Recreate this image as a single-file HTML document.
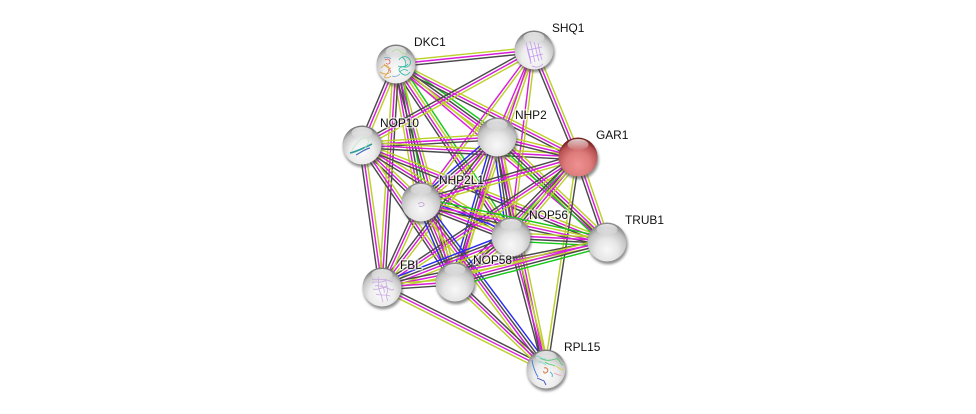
<!DOCTYPE html>
<html>
<head>
<meta charset="utf-8">
<style>
html,body{margin:0;padding:0;background:#fff;width:976px;height:414px;overflow:hidden}
svg{display:block}
text{font-family:"Liberation Sans",sans-serif;font-size:11.9px;fill:#111;paint-order:stroke;stroke:rgba(255,255,255,.6);stroke-width:3px;stroke-linejoin:round}
</style>
</head>
<body>
<svg id="s" width="976" height="414" viewBox="0 0 976 414" xmlns="http://www.w3.org/2000/svg">
<defs>
<radialGradient id="gw" cx="50%" cy="70%" r="64%">
<stop offset="0" stop-color="#f8f8f8"/><stop offset=".45" stop-color="#e6e6e6"/><stop offset=".8" stop-color="#c2c2c2"/><stop offset="1" stop-color="#8c8c8c"/>
</radialGradient>
<radialGradient id="gl" cx="50%" cy="68%" r="64%">
<stop offset="0" stop-color="#fbfbfb"/><stop offset=".5" stop-color="#ececec"/><stop offset=".82" stop-color="#c4c4c4"/><stop offset="1" stop-color="#7c7c7c"/>
</radialGradient>
<radialGradient id="gr" cx="50%" cy="70%" r="64%">
<stop offset="0" stop-color="#f09090"/><stop offset=".5" stop-color="#de7c7c"/><stop offset=".85" stop-color="#b85252"/><stop offset="1" stop-color="#7a2222"/>
</radialGradient>
<linearGradient id="hl" x1="0" y1="0" x2="0" y2="1">
<stop offset="0" stop-color="#fff" stop-opacity=".8"/><stop offset="1" stop-color="#fff" stop-opacity=".05"/>
</linearGradient>
<filter id="bl" x="-30%" y="-30%" width="160%" height="160%"><feGaussianBlur stdDeviation="1.3"/></filter>
</defs>
<g id="edges" fill="none" stroke-width="1.45"></g>
<g id="nodes"></g>

<g fill="none" stroke-width=".8" id="art">
<g stroke="#2fb9a0"><path d="M399 60c3-5 9-4 11 0s-2 8-6 7-7 3-3 6 6 3 9-1"/><path d="M402 57c3 2 5 6 3 10M398 66c3 1 8 1 10-2M400 72c2-3 6-3 8-1"/></g>
<path stroke="#a8dc90" d="M392 52c3-3 7-3 9 0s5 1 6 3"/>
<g stroke="#e0a040"><path d="M381 68c3-4 7-3 8 0s-2 6-4 8 3 3 6 0"/><path d="M380 72c3 2 6 3 9 1M384 64c2 3 5 5 7 4"/></g>
<path stroke="#d66" d="M385 60c3-2 5 0 5 2s-3 3-4 1M388 70c2-1 3 1 2 3"/>
<path stroke="#7ac" d="M392 76c3 1 6 0 8-2M384 58c3-1 5-1 7 1"/>
<g stroke="#c49cee"><path d="M526 43c2 6 4 13 5 20M530 41c2 7 3 14 5 21M534 42c2 6 3 13 5 19M538 43c1 6 2 11 4 17M527 47c1 6 3 12 4 17M532 66c4 2 8 1 11-2M528 50l14-3M530 57l13-3"/></g>
<path stroke="#2a9d9a" stroke-width="1.6" d="M350 153c5-1 14-5 22-9"/>
<path stroke="#4a70c0" stroke-width="1.2" d="M356 155c4-2 9-6 14-7"/>
<path stroke="#bfe8c8" d="M352 150c4-6 9-14 15-12 4 2 0 8-4 12"/>
<path stroke="#c0a0d0" d="M418 204c2-2 5-2 6 0s-3 3-5 2"/>
<path stroke="#ddd" d="M421 200v-8"/>
<g stroke="#c8a8e0"><path d="M372 283c4-3 8 1 12-2s6 2 9 0M373 289c5 2 9-3 14-1s4 3 7 1M378 277c2 5-1 10 2 15s1 6 3 10M386 279c-1 6 3 8 1 14s2 6 0 8M376 294c4 2 10 0 14 2M372 279c5 2 9-1 15 1M375 286c4-2 8 3 12 0M381 284c2 3 4 6 3 9"/></g>
<g stroke-width=".9">
<path stroke="#3f7fd8" d="M532 360c1 7 3 12 6 17"/>
<path stroke="#3a50b8" d="M537 378l7 3 2 4"/>
<path stroke="#58c878" d="M540 358c5 3 10 3 15 1s4 5 8 6M545 362c3 3 7 2 10 4"/>
<path stroke="#7fd8d0" d="M536 356c4 0 6 4 10 3M538 362c3-1 5 1 8 3"/>
<path stroke="#d9d050" d="M556 366c3 2 5 4 8 4"/>
<path stroke="#c87038" d="M544 368c3-1 5 2 3 4s-4 1-3-1"/>
<path stroke="#38b0c8" d="M550 372c2 1 3 3 2 5"/>
<path stroke="#e8a0b0" d="M554 373c3 1 5 3 7 2"/>
</g>
</g>

<text x="414" y="46">DKC1</text>
<text x="552" y="32">SHQ1</text>
<text x="380" y="127">NOP10</text>
<text x="515" y="119">NHP2</text>
<text x="596" y="139">GAR1</text>
<text x="439" y="184">NHP2L1</text>
<text x="529" y="219">NOP56</text>
<text x="625" y="224">TRUB1</text>
<text x="400" y="269">FBL</text>
<text x="473" y="264">NOP58</text>
<text x="564" y="351">RPL15</text>
</svg>
<script>
(function(){
var NS="http://www.w3.org/2000/svg";
var P={D:[396,64,'gl'],S:[534,50,'gl'],O:[362,145,'gl'],H:[497,137,'gw'],G:[578,157,'gr'],L:[421,202,'gw'],N:[511,237,'gw'],T:[607,242,'gw'],F:[382,287,'gl'],E:[455,282,'gw'],R:[546,369,'gl']};
var C={y:'#bcd02a',m:'#d81ed8',k:'#4a4a4a',g:'#18c818',b:'#2a2af0'};
var E="DS ymk,DO ymk,DH gkmy,DG ymk,DL gkmy,DN gymk,DT ym,DF kmy,DE ymk,SO ymk,SH ym,SG ymk,SL ym,SN ym,SE ym,OH ymk,OG ymk,OL ymk,ON ymk,OT ymk,OF ymk,OE ymk,HG ymk,HL ymkb,HN ymkb,HT ymkg,HF ymk,HE ymkb,HR ymk,GL ymk,GN ymkg,GT ymk,GF ymk,GE ymk,GR ky,LN bymk,LT gymk,LF ymk,LE ymkb,LR bkmy,NT ymkg,NF ymkb,NE ymk,NR ymk,TF ymk,TE gkmy,FE ymk,FR kmy,ER kmy".split(',');
var eg=document.getElementById('edges'),ng=document.getElementById('nodes');
function el(n,a,p){var e=document.createElementNS(NS,n);for(var k in a)e.setAttribute(k,a[k]);p.appendChild(e);return e}
E.forEach(function(s){
  var a=P[s[0]],b=P[s[1]],t=s.slice(3),dx=b[0]-a[0],dy=b[1]-a[1],l=Math.hypot(dx,dy),nx=-dy/l,ny=dx/l,sp=2.8;
  for(var i=0;i<t.length;i++){
    var o=(i-(t.length-1)/2)*sp;
    el('line',{x1:(a[0]+nx*o).toFixed(1),y1:(a[1]+ny*o).toFixed(1),x2:(b[0]+nx*o).toFixed(1),y2:(b[1]+ny*o).toFixed(1),stroke:C[t[i]]},eg);
  }
});
Object.keys(P).forEach(function(k){
  var p=P[k],x=p[0],y=p[1];
  el('circle',{cx:x+1,cy:y+2.5,r:19.8,fill:'#444',opacity:.6,filter:'url(#bl)'},ng);
  el('circle',{cx:x,cy:y,r:19.5,fill:'url(#'+p[2]+')'},ng);
  el('ellipse',{cx:x,cy:y-12.5,rx:10.5,ry:5.5,fill:'url(#hl)'},ng);
});
})();
</script>
</body>
</html>
